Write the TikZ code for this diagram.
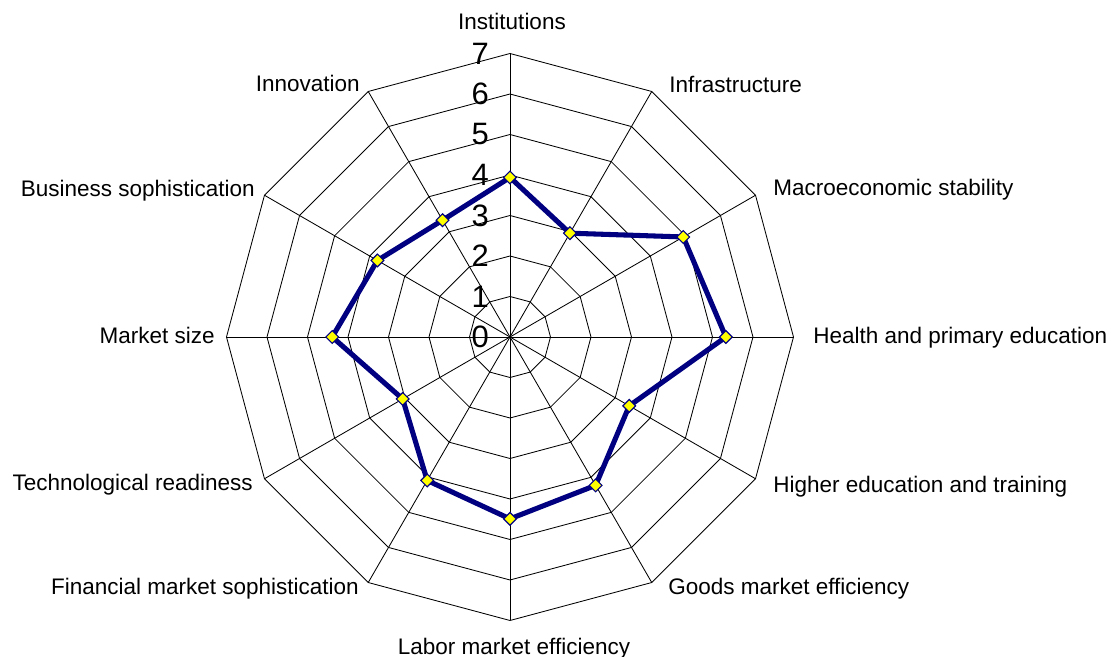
\documentclass[tikz,border=0pt]{standalone}
\usepackage{fontspec}
\setmainfont{Liberation Sans}
\usetikzlibrary{shapes.geometric}
\definecolor{navy}{RGB}{0,0,128}
\definecolor{markeryellow}{RGB}{255,255,0}

\begin{document}
\begin{tikzpicture}[
    x=0.025cm, y=0.025cm,
    grid/.style={draw=black, line width=0.6pt},
    axislabel/.style={font=\fontsize{16}{19}\selectfont, inner sep=0pt},
    ticklabel/.style={font=\fontsize{22}{26}\selectfont, inner sep=0pt, anchor=east},
    series/.style={draw=navy, line width=3.6pt, line join=round},
    marker/.style={diamond, draw=navy, fill=markeryellow, line width=0.8pt, inner sep=0pt, minimum size=0.33cm}
]
    \useasboundingbox (-510,-320) rectangle (603,337);

    % Grid rings and spokes
    \foreach \r in {1,...,7}
        \draw[grid] (90:\r*40.5) \foreach \a in {60,30,...,-240} {-- (\a:\r*40.5)} -- cycle;
    \foreach \a in {90,60,...,-240}
        \draw[grid] (0,0) -- (\a:283.5);

    % Scale numbers
    \foreach \v in {0,...,7}
        \node[ticklabel] (tick\v) at (-21,\v*40.5) {\v};

    % Data points
    \coordinate (inst) at (90:3.94*40.5);
    \coordinate (infra) at (60:2.96*40.5);
    \coordinate (macro) at (30:4.94*40.5);
    \coordinate (health) at (0:5.33*40.5);
    \coordinate (higher) at (-30:3.40*40.5);
    \coordinate (goods) at (-60:4.23*40.5);
    \coordinate (labor) at (-90:4.49*40.5);
    \coordinate (finance) at (-120:4.09*40.5);
    \coordinate (tech) at (-150:3.06*40.5);
    \coordinate (market) at (180:4.39*40.5);
    \coordinate (business) at (150:3.78*40.5);
    \coordinate (innov) at (120:3.33*40.5);

    \draw[series] (inst) -- (infra) -- (macro) -- (health) -- (higher) -- (goods)
        -- (labor) -- (finance) -- (tech) -- (market) -- (business) -- (innov) -- cycle;
    \foreach \p in {inst,infra,macro,health,higher,goods,labor,finance,tech,market,business,innov}
        \node[marker] (m-\p) at (\p) {};

    % Axis labels
    \node[axislabel, anchor=base] (l-inst) at (2,307) {Institutions};
    \node[axislabel, anchor=base west] (l-infra) at (159,244) {Infrastructure};
    \node[axislabel, anchor=base west] (l-macro) at (263,141) {Macroeconomic stability};
    \node[axislabel, anchor=base west] (l-health) at (303,-7) {Health and primary education};
    \node[axislabel, anchor=base west] (l-higher) at (263,-156) {Higher education and training};
    \node[axislabel, anchor=base west] (l-goods) at (158,-258) {Goods market efficiency};
    \node[axislabel, anchor=base] (l-labor) at (4,-317) {Labor market efficiency};
    \node[axislabel, anchor=base east] (l-finance) at (-151,-258) {Financial market sophistication};
    \node[axislabel, anchor=base east] (l-tech) at (-257,-154) {Technological readiness};
    \node[axislabel, anchor=base east] (l-market) at (-295,-7) {Market size};
    \node[axislabel, anchor=base east] (l-business) at (-255,140) {Business sophistication};
    \node[axislabel, anchor=base east] (l-innov) at (-150,245) {Innovation};
\end{tikzpicture}
\end{document}
